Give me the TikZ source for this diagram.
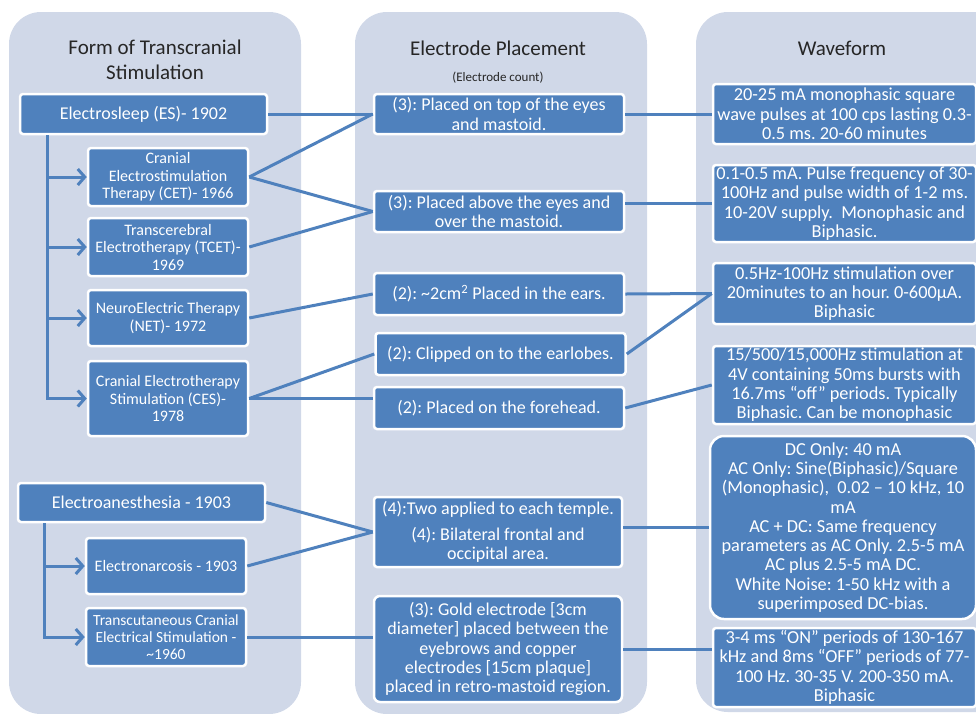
\documentclass[tikz,border=0pt]{standalone}
\usepackage{fontspec}
\setmainfont{Carlito}
\usepackage{tikz}
\usetikzlibrary{arrows.meta,positioning,calc}
\definecolor{sblue}{HTML}{4F81BD}
\definecolor{spanel}{HTML}{D0D8E8}
\definecolor{stext}{HTML}{262626}
\frenchspacing
\tikzset{
 panel/.style={fill=spanel,rounded corners=32pt},
 head/.style={text=stext,align=center,font=\fontsize{21}{25}\selectfont},
 box/.style={fill=sblue,draw=white,line width=2.5pt,rounded corners=3pt,text=white,
   align=center,inner sep=1pt},
 lbox/.style={box,minimum width=160pt,font=\fontsize{16}{17.5}\selectfont},
 mbox/.style={box,minimum width=250pt,font=\fontsize{18}{19.3}\selectfont},
 rbox/.style={box,minimum width=263pt,font=\fontsize{18.3}{19.3}\selectfont},
 link/.style={draw=sblue,line width=3pt},
 arrow/.style={link,-{Straight Barb[length=7pt,width=16pt]}}
}

\begin{document}
\begin{tikzpicture}[x=1pt,y=-1pt]
 \clip (0,0) rectangle (976,713);
 \fill[panel] (9,12) rectangle (301,714);
 \fill[panel] (355,12) rectangle (647,714);
 \fill[panel] (696,12) rectangle (1010,712);
 \node[head] (hform) at (155,59.5) {Form of Transcranial\\Stimulation};
 \node[head] (hplace) at (498,48) {Electrode Placement};
 \node[text=stext,font=\fontsize{13}{15}\selectfont] (hcount) at (498,78) {(Electrode count)};
 \node[head] (hwave) at (842,48) {Waveform};
 \node[lbox,minimum width=247pt,minimum height=40pt,font=\fontsize{18}{20}\selectfont] (es) at (143.5,114) {Electrosleep (ES)- 1902};
 \node[lbox,minimum height=58pt] (cet) at (168,177) {Cranial\\Electrostimulation\\Therapy (CET)- 1966};
 \node[lbox,minimum height=58pt] (tcet) at (168,247) {Transcerebral\\Electrotherapy (TCET)-\\1969};
 \node[lbox,minimum height=56pt] (net) at (168,318) {NeuroElectric Therapy\\(NET)- 1972};
 \node[lbox,minimum height=75pt] (ces) at (168,398.5) {Cranial Electrotherapy\\Stimulation (CES)-\\1978};
 \node[lbox,minimum width=247pt,minimum height=39pt,font=\fontsize{18}{20}\selectfont] (ea) at (141.5,502.5) {Electroanesthesia - 1903};
 \node[lbox,minimum height=56pt] (en) at (166,566) {Electronarcosis - 1903};
 \node[lbox,minimum height=58pt,font=\fontsize{15.5}{17}\selectfont] (tces) at (166,637) {Transcutaneous Cranial\\Electrical Stimulation -\\\textasciitilde1960};
 \node[mbox,minimum height=40pt] (m1) at (499,114) {(3): Placed on top of the eyes\\and mastoid.};
 \node[mbox,minimum height=41pt] (m2) at (499,211.5) {(3): Placed above the eyes and\\over the mastoid.};
 \node[mbox,minimum height=42pt] (m3) at (499,294) {(2): \textasciitilde2cm\textsuperscript{2} Placed in the ears.};
 \node[mbox,minimum height=42pt] (m4) at (500.5,354) {(2): Clipped on to the earlobes.};
 \node[mbox,minimum height=42pt] (m5) at (499,408) {(2): Placed on the forehead.};
 \node[mbox,minimum width=248pt,minimum height=70pt] (m6) at (498,532) {(4):Two applied to each temple.\\[6pt](4): Bilateral frontal and\\occipital area.};
 \node[mbox,minimum width=248pt,minimum height=106pt,rounded corners=6pt] (m7) at (498,649) {(3): Gold electrode [3cm\\diameter] placed between the\\eyebrows and copper\\electrodes [15cm plaque]\\placed in retro-mastoid region.};
 \node[rbox,minimum height=60pt] (r1) at (844.5,114) {20-25 mA monophasic square\\wave pulses at 100 cps lasting 0.3-\\0.5 ms. 20-60 minutes};
 \node[rbox,minimum height=77pt] (r2) at (844.5,203.5) {0.1-0.5 mA. Pulse frequency of 30-\\100Hz and pulse width of 1-2 ms.\\10-20V supply.\ \ Monophasic and\\Biphasic.};
 \node[rbox,minimum height=61pt] (r3) at (844.5,293.5) {0.5Hz-100Hz stimulation over\\20minutes to an hour. 0-600µA.\\Biphasic};
 \node[rbox,minimum height=78pt] (r4) at (844.5,385) {15/500/15,000Hz stimulation at\\4V containing 50ms bursts with\\16.7ms “off” periods. Typically\\Biphasic. Can be monophasic};
 \node[rbox,minimum width=266pt,minimum height=183pt,rounded corners=14pt] (r5) at (843,527.5) {DC Only: 40 mA\\AC Only: Sine(Biphasic)/Square\\(Monophasic),\ \ 0.02 – 10 kHz, 10\\mA\\AC + DC: Same frequency\\parameters as AC Only. 2.5-5 mA\\AC plus 2.5-5 mA DC.\\White Noise: 1-50 kHz with a\\superimposed DC-bias.};
 \node[rbox,minimum height=79pt] (r6) at (844.5,667.5) {3-4 ms “ON” periods of 130-167\\kHz and 8ms “OFF” periods of 77-\\100 Hz. 30-35 V. 200-350 mA.\\Biphasic};
 \draw[arrow] ([xshift=29pt]es.south west) |- (cet.west);
 \draw[arrow] ([xshift=29pt]es.south west) |- (tcet.west);
 \draw[arrow] ([xshift=29pt]es.south west) |- (net.west);
 \draw[arrow] ([xshift=29pt]es.south west) |- (ces.west);
 \draw[arrow] ([xshift=28pt]ea.south west) |- (en.west);
 \draw[arrow] ([xshift=28pt]ea.south west) |- (tces.west);
 \draw[link] (es.east) -- (m1.west);
 \draw[link] (cet.east) -- (m1.west);
 \draw[link] (cet.east) -- (m2.west);
 \draw[link] (tcet.east) -- (m2.west);
 \draw[link] (net.east) -- (m3.west);
 \draw[link] (ces.east) -- (m4.west);
 \draw[link] (ces.east) -- (ces.east -| m5.west);
 \draw[link] (ea.east) -- (m6.west);
 \draw[link] (en.east) -- (m6.west);
 \draw[link] (tces.east) -- (tces.east -| m7.west);
 \draw[link] (m1.east) -- (r1.west);
 \draw[link] (r2.west -| m2.east) -- (r2.west);
 \draw[link] (m3.east) -- (r3.west);
 \draw[link] (m4.east) -- (r3.west);
 \draw[link] (m5.east) -- (r4.west);
 \draw[link] (r5.west -| m6.east) -- (r5.west);
 \draw[link] (m7.east) -- (m7.east -| r6.west);
\end{tikzpicture}
\end{document}
